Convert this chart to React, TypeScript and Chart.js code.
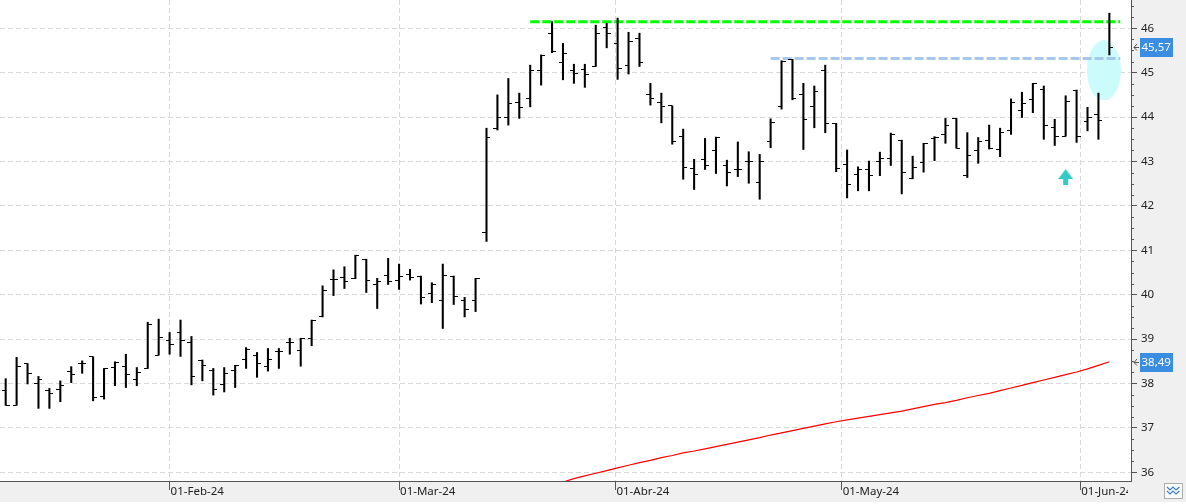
import React, { useEffect, useRef } from 'react';
import { Chart, registerables } from 'chart.js';

Chart.register(...registerables);

// ---------- DATA ----------
const tradingDates: string[] = [
  '2024-01-11', '2024-01-12', '2024-01-15', '2024-01-16', '2024-01-17', '2024-01-18', '2024-01-19',
  '2024-01-22', '2024-01-23', '2024-01-24', '2024-01-25', '2024-01-26', '2024-01-29', '2024-01-30', '2024-01-31',
  '2024-02-01', '2024-02-02', '2024-02-05', '2024-02-06', '2024-02-07', '2024-02-08', '2024-02-09',
  '2024-02-12', '2024-02-13', '2024-02-14', '2024-02-15', '2024-02-16', '2024-02-19', '2024-02-20',
  '2024-02-21', '2024-02-22', '2024-02-23', '2024-02-26', '2024-02-27', '2024-02-28', '2024-02-29',
  '2024-03-01', '2024-03-04', '2024-03-05', '2024-03-06', '2024-03-07', '2024-03-08', '2024-03-11',
  '2024-03-12', '2024-03-13', '2024-03-14', '2024-03-15', '2024-03-18', '2024-03-19', '2024-03-20',
  '2024-03-21', '2024-03-22', '2024-03-25', '2024-03-26', '2024-03-27', '2024-03-28',
  '2024-04-02', '2024-04-03', '2024-04-04', '2024-04-05', '2024-04-08', '2024-04-09', '2024-04-10',
  '2024-04-11', '2024-04-12', '2024-04-15', '2024-04-16', '2024-04-17', '2024-04-18', '2024-04-19',
  '2024-04-22', '2024-04-23', '2024-04-24', '2024-04-25', '2024-04-26', '2024-04-29', '2024-04-30',
  '2024-05-02', '2024-05-03', '2024-05-06', '2024-05-07', '2024-05-08', '2024-05-09', '2024-05-10',
  '2024-05-13', '2024-05-14', '2024-05-15', '2024-05-16', '2024-05-17', '2024-05-20', '2024-05-21',
  '2024-05-22', '2024-05-23', '2024-05-24', '2024-05-27', '2024-05-28', '2024-05-29', '2024-05-30', '2024-05-31',
  '2024-06-03', '2024-06-04', '2024-06-05',
];

const opens: (number | null)[] = [
  37.84, 37.51, 38.44, 37.99, 37.84, 37.87, 38.26, 38.45, 38.60, 37.71,
  38.36, 38.38, 38.10, 38.34, 38.64, 38.96, 39.14, 38.93, 38.51, 38.29,
  37.97, 38.29, 38.55, 38.64, 38.39, 38.72, 38.93, 38.74, 39.02, 39.50,
  40.35, 40.39, 40.36, 40.80, 40.22, 40.44, 40.33, 40.46, 40.42, 40.02,
  39.86, 40.42, 39.86, 39.86, 41.40, 43.75, 44.00, 44.33, 44.42, 45.05,
  45.89, 45.23, 45.05, 45.08, 45.14, 46.02, 45.65, 45.17, 45.77, 44.52,
  44.33, 44.25, 43.57, 42.85, 43.05, 43.24, 42.92, 42.82, 43.01, 42.53,
  43.46, 44.23, 45.30, 44.52, 44.23, 45.04, 43.86, 42.94, 42.71, 42.81,
  43.01, 43.07, 43.48, 42.61, 42.98, 43.51, 43.60, 43.97, 42.68, 43.24,
  43.48, 43.26, 43.69, 44.14, 44.39, 44.63, 43.77, 43.57, 44.61, 43.91,
  44.05, null,
];

const highs: number[] = [
  38.11, 38.59, 38.45, 38.16, 37.89, 38.06, 38.38, 38.51, 38.60, 38.34,
  38.49, 38.66, 38.36, 39.38, 39.45, 39.15, 39.43, 39.06, 38.53, 38.34,
  38.36, 38.41, 38.81, 38.70, 38.79, 38.79, 39.02, 39.02, 39.43, 40.20,
  40.56, 40.63, 40.89, 40.80, 40.37, 40.82, 40.69, 40.57, 40.42, 40.27,
  40.69, 40.42, 39.94, 40.37, 43.75, 44.50, 44.87, 44.54, 45.17, 45.40,
  46.15, 45.66, 45.19, 45.19, 46.07, 46.11, 46.23, 45.91, 45.89, 44.76,
  44.54, 44.25, 43.73, 43.05, 43.52, 43.55, 43.03, 43.44, 43.22, 43.16,
  43.96, 45.27, 45.30, 44.76, 44.70, 45.17, 43.86, 43.26, 42.88, 43.01,
  43.21, 43.64, 43.48, 43.12, 43.41, 43.56, 43.97, 43.97, 43.65, 43.54,
  43.82, 43.75, 44.41, 44.56, 44.76, 44.70, 43.95, 44.48, 44.61, 44.22,
  44.54, 46.34,
];

const lows: number[] = [
  37.51, 37.51, 37.99, 37.44, 37.44, 37.59, 38.02, 38.23, 37.61, 37.65,
  37.95, 37.91, 37.95, 38.34, 38.64, 38.66, 38.61, 37.97, 38.06, 37.74,
  37.81, 37.91, 38.34, 38.14, 38.28, 38.34, 38.66, 38.39, 38.85, 39.50,
  39.98, 40.14, 40.36, 40.05, 39.69, 40.23, 40.12, 40.33, 39.79, 39.82,
  39.24, 39.78, 39.50, 39.62, 41.20, 43.71, 43.82, 43.97, 44.23, 44.72,
  45.45, 44.84, 44.76, 44.67, 45.14, 45.56, 44.85, 44.97, 45.14, 44.27,
  43.87, 43.39, 42.60, 42.37, 42.82, 42.73, 42.45, 42.66, 42.51, 42.15,
  43.31, 44.18, 44.39, 43.27, 43.76, 43.65, 42.77, 42.18, 42.34, 42.34,
  42.68, 42.91, 42.27, 42.61, 42.76, 43.02, 43.41, 43.30, 42.64, 42.96,
  43.28, 43.11, 43.61, 43.99, 44.10, 43.50, 43.36, 43.57, 43.43, 43.69,
  43.50, 45.40,
];

const closes: number[] = [
  37.51, 38.38, 38.23, 38.10, 37.78, 37.96, 38.21, 38.45, 37.69, 38.34,
  38.47, 38.21, 38.25, 39.34, 39.04, 38.89, 38.96, 38.16, 38.40, 37.86,
  38.23, 38.41, 38.76, 38.46, 38.55, 38.72, 38.93, 39.02, 39.43, 40.10,
  40.35, 40.29, 40.89, 40.33, 40.29, 40.30, 40.40, 40.39, 39.94, 40.24,
  40.44, 39.95, 39.67, 40.37, 43.55, 44.00, 44.31, 44.22, 45.05, 45.38,
  45.47, 45.44, 44.99, 44.96, 45.89, 45.89, 45.10, 45.71, 45.23, 44.42,
  44.23, 43.45, 42.87, 42.70, 42.91, 43.55, 42.76, 42.82, 43.01, 43.01,
  43.88, 45.25, 44.41, 43.95, 44.57, 43.86, 42.85, 42.49, 42.83, 42.68,
  43.06, 43.61, 42.76, 42.87, 43.41, 43.55, 43.80, 43.30, 43.13, 43.45,
  43.30, 43.65, 44.33, 44.31, 44.76, 43.80, 43.57, 44.36, 43.57, 44.00,
  43.93, 45.57,
];

// moving average, starting at trading day index 51
const maStartIndex = 51;
const maValues: number[] = [
  35.78, 35.86, 35.92, 35.98, 36.04, 36.10, 36.16, 36.22, 36.27, 36.33,
  36.38, 36.44, 36.48, 36.53, 36.58, 36.63, 36.68, 36.73, 36.78, 36.84,
  36.89, 36.94, 36.99, 37.04, 37.09, 37.14, 37.18, 37.22, 37.26, 37.30,
  37.34, 37.38, 37.43, 37.48, 37.53, 37.57, 37.62, 37.68, 37.73, 37.78,
  37.84, 37.90, 37.96, 38.02, 38.08, 38.14, 38.20, 38.26, 38.33, 38.41,
  38.49,
];

const monthTickDates = ['2024-02-01', '2024-03-01', '2024-04-01', '2024-05-01', '2024-06-01'];
const monthTickLabels = ['01-Feb-24', '01-Mar-24', '01-Abr-24', '01-May-24', '01-Jun-24'];
const priceTickValues = [36, 37, 38, 39, 40, 41, 42, 43, 44, 45, 46];

const resistanceHigh = { value: 46.15, fromIndex: 48, toIndex: 102 };
const resistanceLow = { value: 45.32, fromIndex: 70, toIndex: 102 };
const highlightZone = { index: 100.5, value: 45.05 };
const signalArrow = { index: 97, value: 42.65 };

// ---------- helpers ----------
const toT = (s: string) => Date.parse(s + 'T00:00:00Z');
function dateToIndex(d: string): number {
  const t = toT(d);
  for (let i = 0; i < tradingDates.length - 1; i++) {
    const a = toT(tradingDates[i]);
    const b = toT(tradingDates[i + 1]);
    if (t >= a && t < b) return i + (t - a) / (b - a);
  }
  return tradingDates.length - 1;
}
const monthTickIndex = monthTickDates.map(dateToIndex);

function makeTickImage(side: 'open' | 'close') {
  const c = document.createElement('canvas');
  c.width = 8;
  c.height = 1;
  const g = c.getContext('2d')!;
  g.fillStyle = '#000';
  if (side === 'open') g.fillRect(0, 0, 4, 1);
  else g.fillRect(4, 0, 4, 1);
  return c;
}
function makeEllipseImage() {
  const c = document.createElement('canvas');
  c.width = 34;
  c.height = 60;
  const g = c.getContext('2d')!;
  g.fillStyle = '#ccfbfb';
  g.beginPath();
  g.ellipse(17, 30, 17, 30, 0, 0, Math.PI * 2);
  g.fill();
  return c;
}
function makeArrowImage() {
  const c = document.createElement('canvas');
  c.width = 15;
  c.height = 16;
  const g = c.getContext('2d')!;
  g.fillStyle = '#36c9c9';
  g.beginPath();
  g.moveTo(7.5, 0);
  g.lineTo(15, 10);
  g.lineTo(0, 10);
  g.closePath();
  g.fill();
  g.fillRect(5, 9, 5, 7);
  return c;
}

const FONT = "'Noto Sans', sans-serif";

const panelPlugin = {
  id: 'panels',
  beforeDraw(chart: any) {
    const { ctx, chartArea: a, width, height } = chart;
    ctx.save();
    ctx.fillStyle = '#f0f0f0';
    ctx.fillRect(0, 0, width, height);
    ctx.fillStyle = '#ffffff';
    ctx.fillRect(a.left, a.top, a.right - a.left, a.bottom - a.top);
    ctx.fillRect(0, height - 2, width, 2);
    ctx.restore();
  },
  beforeDatasetsDraw(chart: any) {
    const { ctx, chartArea: a, width, height } = chart;
    ctx.save();
    ctx.fillStyle = '#f0f0f0';
    ctx.fillRect(a.right - 3, a.bottom + 1, width - a.right + 3, height - a.bottom - 3);
    ctx.restore();
  },
  afterDraw(chart: any) {
    const { ctx, chartArea: a } = chart;
    const ys = chart.scales.y;
    ctx.save();
    // minor ticks
    ctx.strokeStyle = '#555';
    ctx.lineWidth = 1;
    for (let v = 36; v <= 46.5; v += 0.25) {
      if (Number.isInteger(v)) continue;
      const py = Math.round(ys.getPixelForValue(v)) + 0.5;
      ctx.beginPath();
      ctx.moveTo(a.right, py);
      ctx.lineTo(a.right + 3, py);
      ctx.stroke();
    }
    // value tags
    const tags = [closes[closes.length - 1], maValues[maValues.length - 1]];
    tags.forEach((v) => {
      const py = Math.round(ys.getPixelForValue(v));
      ctx.fillStyle = '#3a8de0';
      ctx.fillRect(a.right + 9, py - 9, 33, 19);
      ctx.fillStyle = '#ffffff';
      ctx.font = `11.5px ${FONT}`;
      ctx.textBaseline = 'middle';
      ctx.textAlign = 'left';
      ctx.fillText(v.toFixed(2).replace('.', ','), a.right + 10.5, py + 0.5);
      ctx.strokeStyle = '#555';
      ctx.beginPath();
      ctx.moveTo(a.right + 6, py - 3);
      ctx.lineTo(a.right + 3, py + 0.5);
      ctx.lineTo(a.right + 6, py + 3.5);
      ctx.moveTo(a.right + 3, py + 0.5);
      ctx.lineTo(a.right + 8, py + 0.5);
      ctx.stroke();
    });
    // small button bottom-right
    ctx.fillStyle = '#fbfbfb';
    ctx.strokeStyle = '#adadad';
    ctx.fillRect(1164.5, 483.5, 18, 15);
    ctx.strokeRect(1164.5, 483.5, 18, 15);
    ctx.strokeStyle = '#3c82c8';
    ctx.lineWidth = 1.2;
    for (const off of [0, 4]) {
      ctx.beginPath();
      ctx.moveTo(1167, 487 + off);
      ctx.lineTo(1170, 490 + off);
      ctx.lineTo(1173, 487 + off);
      ctx.lineTo(1176, 490 + off);
      ctx.lineTo(1179.5, 487 + off);
      ctx.stroke();
    }
    ctx.restore();
  },
};

export default function App() {
  const canvasRef = useRef<HTMLCanvasElement | null>(null);

  useEffect(() => {
    const canvas = canvasRef.current;
    if (!canvas) return;
    const openImg = makeTickImage('open');
    const closeImg = makeTickImage('close');

    const chart = new Chart(canvas, {
      type: 'bar',
      data: {
        datasets: [
          {
            type: 'bar',
            data: tradingDates.map((_, i) => ({ x: i, y: [lows[i], highs[i]] })) as any,
            backgroundColor: '#000000',
            borderWidth: 0,
            barThickness: 1.4,
            grouped: false,
            order: 2,
          } as any,
          {
            type: 'scatter',
            data: tradingDates.map((_, i) => ({ x: i, y: opens[i] })) as any,
            pointStyle: openImg as any,
            pointRadius: 3,
            order: 1,
          },
          {
            type: 'scatter',
            data: tradingDates.map((_, i) => ({ x: i, y: closes[i] })) as any,
            pointStyle: closeImg as any,
            pointRadius: 3,
            order: 1,
          },
          {
            type: 'line',
            data: maValues.map((v, k) => ({ x: maStartIndex + k, y: v })) as any,
            borderColor: '#ff0000',
            borderWidth: 1.2,
            pointRadius: 0,
            tension: 0,
            order: 6,
          },
          {
            type: 'line',
            data: [
              { x: resistanceHigh.fromIndex, y: resistanceHigh.value },
              { x: resistanceHigh.toIndex, y: resistanceHigh.value },
            ] as any,
            borderColor: '#00ff00',
            borderWidth: 3,
            borderDash: [9, 3],
            pointRadius: 0,
            order: 7,
          },
          {
            type: 'line',
            data: [
              { x: resistanceLow.fromIndex, y: resistanceLow.value },
              { x: resistanceLow.toIndex, y: resistanceLow.value },
            ] as any,
            borderColor: '#a6c8ee',
            borderWidth: 3,
            borderDash: [9, 3],
            pointRadius: 0,
            order: 8,
          },
          {
            type: 'scatter',
            data: [{ x: signalArrow.index, y: signalArrow.value }] as any,
            pointStyle: makeArrowImage() as any,
            pointRadius: 3,
            order: 5,
          },
          {
            type: 'scatter',
            data: [{ x: highlightZone.index, y: highlightZone.value }] as any,
            pointStyle: makeEllipseImage() as any,
            pointRadius: 3,
            order: 9,
          },
        ],
      },
      options: {
        responsive: false,
        devicePixelRatio: 1,
        animation: false,
        events: [],
        layout: { padding: 0, autoPadding: false },
        plugins: {
          legend: { display: false },
          tooltip: { enabled: false },
        },
        scales: {
          x: {
            type: 'linear',
            position: 'bottom',
            min: -0.52,
            max: 102.98,
            offset: false,
            afterBuildTicks: (s: any) => {
              s.ticks = monthTickIndex.map((v) => ({ value: v }));
            },
            afterFit: (s: any) => {
              s.height = 23;
              s.paddingLeft = 0;
              s.paddingRight = 0;
            },
            grid: {
              offset: false,
              color: '#d9d9d9',
              lineWidth: 1,
              drawTicks: true,
              tickLength: 9,
              tickColor: '#555555',
              tickWidth: 1,
            },
            border: { display: true, color: '#555555', width: 1, dash: [5, 3] },
            ticks: {
              autoSkip: false,
              maxRotation: 0,
              minRotation: 0,
              align: 'start',
              padding: -5,
              labelOffset: 1,
              color: '#222222',
              font: { family: FONT, size: 11.5 },
              callback: (_v: any, i: number) => monthTickLabels[i],
            },
          } as any,
          y: {
            type: 'linear',
            position: 'right',
            min: 35.805,
            max: 46.637,
            beginAtZero: false,
            afterBuildTicks: (s: any) => {
              s.ticks = priceTickValues.map((v) => ({ value: v }));
            },
            afterFit: (s: any) => {
              s.width = 55;
              s.paddingTop = 0;
              s.paddingBottom = 0;
            },
            grid: {
              color: '#d9d9d9',
              lineWidth: 1,
              drawTicks: true,
              tickLength: 6,
              tickColor: '#555555',
            },
            border: { display: true, color: '#555555', width: 1, dash: [5, 3] },
            ticks: {
              autoSkip: false,
              padding: 4,
              color: '#222222',
              font: { family: FONT, size: 11.5 },
              callback: (v: any) => String(v),
            },
          } as any,
        },
      },
      plugins: [panelPlugin],
    });
    return () => chart.destroy();
  }, []);

  return (
    <div style={{ position: 'fixed', left: 0, top: 0, width: 1186, height: 504, background: '#fff' }}>
      <canvas ref={canvasRef} width={1186} height={504} style={{ display: 'block' }} />
    </div>
  );
}
